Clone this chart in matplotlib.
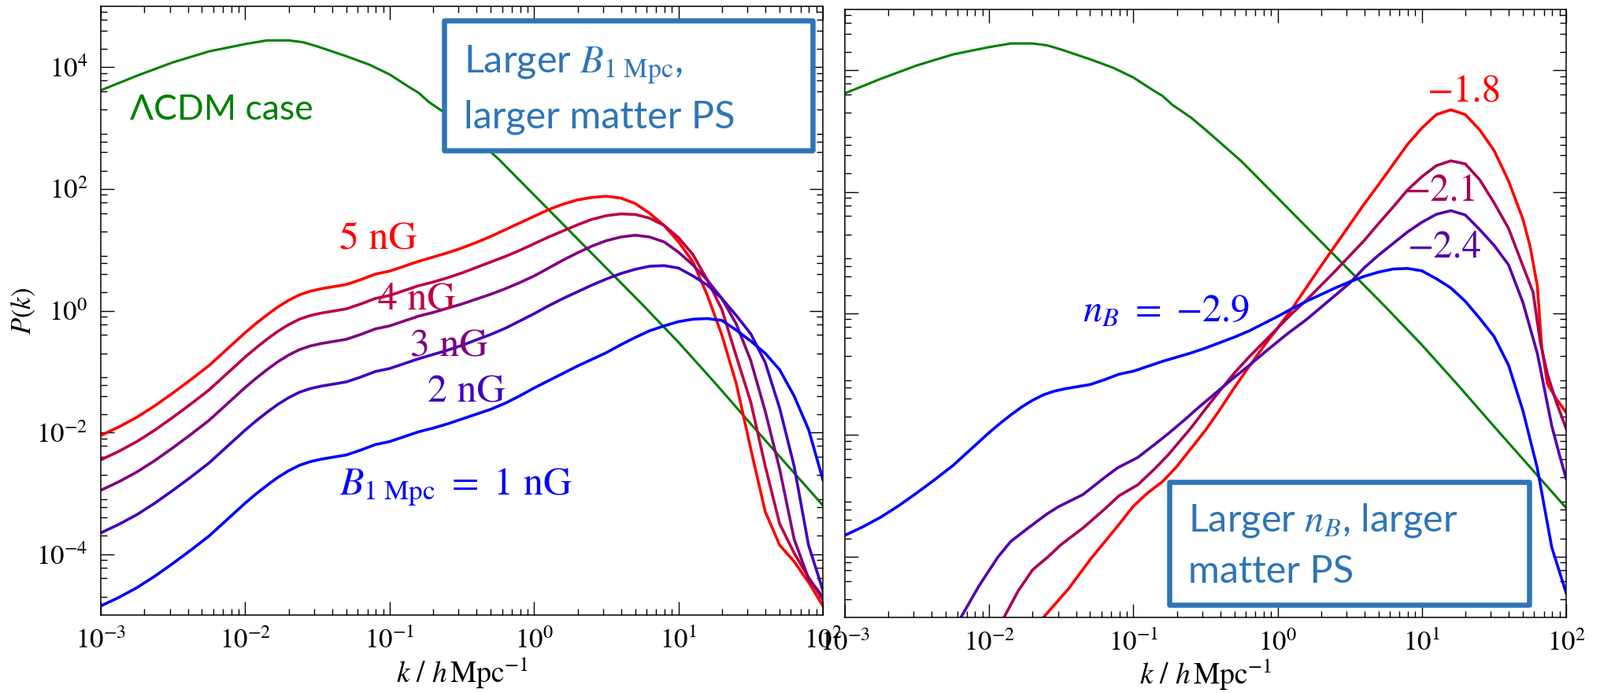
import numpy as np
import matplotlib
matplotlib.use('Agg')
import matplotlib.pyplot as plt
from matplotlib.ticker import FixedLocator, NullFormatter, LogLocator
from matplotlib.patches import Rectangle

plt.rcParams['font.family'] = 'STIXGeneral'
plt.rcParams['mathtext.fontset'] = 'stix'

# --- data (log10 k [h/Mpc], log10 P) ---
logk_lcdm = [-3.0, -2.75, -2.5, -2.25, -2.0, -1.85, -1.7, -1.6, -1.5, -1.3, -1.14, -1.0,
             -0.87, -0.8, -0.73, -0.6, -0.5, -0.25, 0.0, 0.25, 0.5, 0.75, 1.0, 1.25, 1.5, 1.75, 2.0]
logP_lcdm = [3.62, 3.86, 4.08, 4.26, 4.38, 4.44, 4.44, 4.41, 4.34, 4.18, 4.04, 3.88,
             3.68, 3.58, 3.43, 3.22, 3.02, 2.50, 1.90, 1.30, 0.70, 0.10, -0.52, -1.18, -1.86, -2.53, -3.20]

# left panel: different B_1Mpc, n_B = -2.9
logk_b = [-3.0, -2.875, -2.75, -2.625, -2.5, -2.375, -2.25, -2.125, -2.0, -1.925, -1.85,
          -1.775, -1.7, -1.625, -1.55, -1.475, -1.4, -1.3, -1.2, -1.1, -1.0, -0.9, -0.8,
          -0.7, -0.6, -0.5, -0.4, -0.3, -0.2, -0.1, 0.0, 0.1, 0.2, 0.3, 0.4, 0.5, 0.6,
          0.7, 0.8, 0.9, 1.0, 1.1, 1.2, 1.3, 1.4, 1.5, 1.6, 1.7, 1.8, 1.9, 2.0]
logP_1nG = [-4.85, -4.71, -4.55, -4.36, -4.15, -3.93, -3.70, -3.43, -3.16, -3.01, -2.87,
            -2.74, -2.63, -2.54, -2.48, -2.44, -2.41, -2.37, -2.29, -2.20, -2.15, -2.07, -1.99,
            -1.93, -1.86, -1.78, -1.70, -1.62, -1.52, -1.40, -1.27, -1.15, -1.03, -0.91, -0.80,
            -0.69, -0.56, -0.44, -0.33, -0.25, -0.18, -0.14, -0.13, -0.16, -0.32, -0.50, -0.70,
            -0.97, -1.40, -1.95, -2.78]
logP_2nG = [-3.65, -3.51, -3.35, -3.16, -2.95, -2.73, -2.50, -2.23, -1.96, -1.81, -1.67,
            -1.54, -1.43, -1.34, -1.28, -1.24, -1.21, -1.17, -1.09, -1.00, -0.95, -0.87, -0.79,
            -0.72, -0.65, -0.57, -0.48, -0.39, -0.29, -0.17, -0.05, 0.08, 0.20, 0.31, 0.42,
            0.52, 0.61, 0.68, 0.73, 0.74, 0.70, 0.57, 0.42, 0.20, -0.08, -0.38, -0.85,
            -1.60, -2.55, -3.85, -4.60]
logP_3nG = [-2.95, -2.81, -2.65, -2.46, -2.25, -2.03, -1.80, -1.53, -1.26, -1.11, -0.97,
            -0.84, -0.73, -0.64, -0.58, -0.54, -0.51, -0.47, -0.39, -0.30, -0.25, -0.17, -0.09,
            -0.03, 0.04, 0.11, 0.19, 0.27, 0.36, 0.46, 0.57, 0.70, 0.83, 0.95, 1.06,
            1.15, 1.21, 1.24, 1.21, 1.13, 0.96, 0.75, 0.50, 0.20, -0.22, -0.82, -1.65,
            -2.60, -3.75, -4.40, -4.70]
logP_4nG = [-2.45, -2.31, -2.15, -1.96, -1.75, -1.53, -1.30, -1.03, -0.76, -0.61, -0.47,
            -0.34, -0.23, -0.14, -0.08, -0.04, -0.01, 0.03, 0.11, 0.20, 0.25, 0.33, 0.41,
            0.47, 0.54, 0.62, 0.71, 0.80, 0.89, 0.99, 1.10, 1.21, 1.31, 1.41, 1.50,
            1.56, 1.59, 1.58, 1.52, 1.40, 1.20, 0.92, 0.50, 0.02, -0.75, -1.50, -2.55,
            -3.50, -3.98, -4.38, -4.75]
logP_5nG = [-2.05, -1.91, -1.75, -1.56, -1.35, -1.13, -0.90, -0.63, -0.36, -0.21, -0.07,
            0.06, 0.17, 0.26, 0.32, 0.36, 0.39, 0.43, 0.51, 0.60, 0.65, 0.73, 0.81,
            0.88, 0.95, 1.03, 1.12, 1.22, 1.33, 1.44, 1.55, 1.66, 1.75, 1.82, 1.86,
            1.88, 1.85, 1.76, 1.60, 1.40, 1.13, 0.80, 0.25, -0.40, -1.20, -2.27, -3.30,
            -3.85, -4.12, -4.46, -4.85]

# right panel: different n_B (n_B = -2.9 is the 2 nG curve)
logk_n18 = [-1.66, -1.55, -1.45, -1.3, -1.2, -1.1, -1.0, -0.9, -0.8, -0.7, -0.6, -0.5, -0.4,
            -0.3, -0.2, -0.1, 0.0, 0.1, 0.2, 0.3, 0.4, 0.5, 0.6, 0.7, 0.8, 0.9, 1.0, 1.1,
            1.2, 1.3, 1.4, 1.5, 1.6, 1.7, 1.75, 1.8, 1.83, 1.87, 1.93, 2.0]
logP_n18 = [-5.10, -4.80, -4.53, -4.05, -3.76, -3.47, -3.17, -2.95, -2.77, -2.52, -2.22, -1.92,
            -1.58, -1.22, -0.88, -0.55, -0.24, 0.08, 0.43, 0.78, 1.12, 1.46, 1.80, 2.12,
            2.45, 2.78, 3.05, 3.27, 3.35, 3.27, 3.02, 2.68, 2.18, 1.55, 1.10, 0.45, -0.55,
            -1.16, -1.40, -1.63]
logk_n21 = [-1.92, -1.8, -1.7, -1.6, -1.5, -1.35, -1.2, -1.1, -0.97, -0.85, -0.76, -0.6, -0.5,
            -0.4, -0.3, -0.2, -0.1, 0.0, 0.1, 0.2, 0.3, 0.4, 0.5, 0.6, 0.7, 0.8, 0.9, 1.0,
            1.1, 1.2, 1.3, 1.4, 1.5, 1.6, 1.7, 1.77, 1.82, 1.87, 1.93, 2.0]
logP_n21 = [-5.10, -4.57, -4.22, -4.02, -3.80, -3.53, -3.22, -3.00, -2.82, -2.55, -2.33, -1.88,
            -1.57, -1.27, -0.98, -0.72, -0.48, -0.24, 0.0, 0.22, 0.46, 0.70, 0.95, 1.20,
            1.48, 1.75, 2.03, 2.25, 2.43, 2.51, 2.46, 2.20, 1.82, 1.40, 0.78, 0.35, -0.47,
            -1.00, -1.45, -1.90]
logk_n24 = [-2.22, -2.07, -1.94, -1.85, -1.73, -1.6, -1.52, -1.35, -1.2, -1.11, -0.97, -0.85,
            -0.76, -0.65, -0.55, -0.45, -0.31, -0.2, -0.07, 0.07, 0.2, 0.3, 0.4, 0.5, 0.6,
            0.7, 0.8, 0.9, 1.0, 1.1, 1.2, 1.3, 1.4, 1.5, 1.6, 1.7, 1.8, 1.9, 1.95, 2.0]
logP_n24 = [-5.10, -4.48, -4.01, -3.75, -3.53, -3.30, -3.18, -2.98, -2.70, -2.54, -2.37, -2.15,
            -1.98, -1.76, -1.55, -1.35, -1.07, -0.86, -0.60, -0.33, -0.10, 0.10, 0.30, 0.50,
            0.75, 0.96, 1.15, 1.34, 1.50, 1.63, 1.69, 1.62, 1.38, 1.12, 0.80, 0.18, -0.66,
            -1.85, -2.30, -2.72]

green = '#008000'
box_col = '#2E75B6'
lw = 2.6


def pw(a):
    return 10 ** np.array(a)


def style_axes(ax):
    ax.set_xscale('log')
    ax.set_yscale('log')
    ax.set_xlim(1e-3, 1e2)
    ax.set_ylim(1e-5, 1e5)
    ax.yaxis.set_major_locator(FixedLocator([1e-4, 1e-2, 1e0, 1e2, 1e4]))
    ax.yaxis.set_minor_locator(FixedLocator([m * 10.0 ** n for n in range(-5, 5) for m in (2, 4, 6, 8)]))
    ax.yaxis.set_minor_formatter(NullFormatter())
    ax.xaxis.set_major_locator(LogLocator(base=10, numticks=10))
    ax.xaxis.set_minor_locator(LogLocator(base=10, subs=np.arange(2, 10), numticks=20))
    ax.xaxis.set_minor_formatter(NullFormatter())
    ax.tick_params(which='both', direction='in', top=True, right=True, width=1.0,
                   labelsize=25, pad=12)
    ax.tick_params(which='major', length=12)
    ax.tick_params(which='minor', length=6)
    for s in ax.spines.values():
        s.set_linewidth(1.1)
    ax.set_xlabel(r'$k\ /\ h\,\mathrm{Mpc}^{-1}$', fontsize=27)
    ax.xaxis.set_label_coords(0.5, -0.066)


fig = plt.figure(figsize=(20.33, 8.8), dpi=100)
ax1 = fig.add_axes([0.0630, 0.1125, 0.4511, 0.8784])
ax2 = fig.add_axes([0.5278, 0.1091, 0.4506, 0.8773])

# left panel
ax1.plot(pw(logk_lcdm), pw(logP_lcdm), color=green, lw=2.2)
ax1.plot(pw(logk_b), pw(logP_5nG), color='#FF0000', lw=lw)
ax1.plot(pw(logk_b), pw(logP_4nG), color='#BF0040', lw=lw)
ax1.plot(pw(logk_b), pw(logP_3nG), color='#800080', lw=lw)
ax1.plot(pw(logk_b), pw(logP_2nG), color='#4000BF', lw=lw)
ax1.plot(pw(logk_b), pw(logP_1nG), color='#0000FF', lw=lw)
style_axes(ax1)
ax1.set_ylabel(r'$P(k)$', fontsize=25)
ax1.yaxis.set_label_coords(-0.088, 0.5)

sans = ['Lato', 'Open Sans', 'DejaVu Sans']
ax1.text(10 ** -2.80, 10 ** 3.14, 'ΛCDM case', family=sans, fontsize=32, color=green)
ax1.text(10 ** -1.35, 10 ** 1.02, '5 nG', fontsize=36, color='#FF0000')
ax1.text(10 ** -1.08, 10 ** 0.03, '4 nG', fontsize=36, color='#BF0040')
ax1.text(10 ** -0.86, 10 ** -0.75, '3 nG', fontsize=36, color='#800080')
ax1.text(10 ** -0.74, 10 ** -1.50, '2 nG', fontsize=36, color='#4000BF')
ax1.text(10 ** -1.35, 10 ** -3.03, r'$B_{1\ \mathrm{Mpc}}\ =\ 1\ \mathrm{nG}$', fontsize=36,
         color='#0000FF')

# right panel
ax2.plot(pw(logk_lcdm), pw(logP_lcdm), color=green, lw=2.2)
ax2.plot(pw(logk_n18), pw(logP_n18), color='#FF0000', lw=lw)
ax2.plot(pw(logk_n21), pw(logP_n21), color='#AA0055', lw=lw)
ax2.plot(pw(logk_n24), pw(logP_n24), color='#5500AA', lw=lw)
ax2.plot(pw(logk_b), pw(logP_2nG), color='#0000FF', lw=lw)
style_axes(ax2)
ax2.tick_params(labelleft=False)

ax2.text(10 ** 1.04, 10 ** 3.48, '\u22121.8', fontsize=35, color='#FF0000')
ax2.text(10 ** 0.88, 10 ** 1.84, '\u22122.1', fontsize=35, color='#AA0055')
ax2.text(10 ** 0.90, 10 ** 0.93, '\u22122.4', fontsize=35, color='#5500AA')
ax2.text(10 ** -1.35, 10 ** -0.13, r'$n_B\ =\ {-}2.9$', fontsize=35, color='#0000FF')

# call-out boxes
for (x0, y0, w, h) in [(0.2774, 0.7830, 0.2302, 0.1875), (0.7304, 0.1273, 0.2248, 0.1773)]:
    fig.add_artist(Rectangle((x0, y0), w, h, transform=fig.transFigure, facecolor='white',
                             edgecolor=box_col, lw=4.7, zorder=5, joinstyle='round'))

fig.text(0.2897, 0.8955, r'Larger $B_{1\ \mathrm{Mpc}}$,', family=sans, fontsize=35,
         color=box_col, va='baseline', zorder=6)
fig.text(0.2897, 0.8148, 'larger matter PS', family=sans, fontsize=35,
         color=box_col, va='baseline', zorder=6)
fig.text(0.7423, 0.2330, r'Larger $n_B$, larger', family=sans, fontsize=35,
         color=box_col, va='baseline', zorder=6)
fig.text(0.7423, 0.1591, 'matter PS', family=sans, fontsize=35,
         color=box_col, va='baseline', zorder=6)

fig.savefig('out.png', dpi=100)
